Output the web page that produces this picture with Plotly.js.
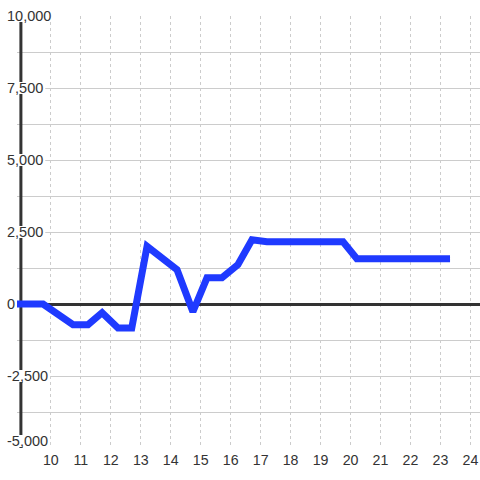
<!DOCTYPE html>
<html>
<head>
<meta charset="utf-8">
<script src="https://cdn.plot.ly/plotly-3.0.1.min.js"></script>
<style>html,body{margin:0;padding:0;background:#fff;}#chart{width:480px;height:480px;}</style>
</head>
<body>
<div id="chart"></div>
<script>
// Data
const xValues = [8.87, 9.74, 10.74, 11.24, 11.71, 12.24, 12.70, 13.21, 14.21, 14.74, 15.21, 15.71, 16.24, 16.71, 17.21, 17.71, 18.21, 18.71, 19.21, 19.75, 20.21, 20.71, 21.21, 21.71, 22.21, 22.71, 23.32];
const yValues = [0, 0, -720, -720, -300, -830, -830, 2000, 1190, -270, 910, 910, 1360, 2230, 2160, 2160, 2160, 2160, 2160, 2160, 1570, 1570, 1570, 1570, 1570, 1570, 1570];
const xTickVals = [10, 11, 12, 13, 14, 15, 16, 17, 18, 19, 20, 21, 22, 23, 24];
const xTickText = ['10', '11', '12', '13', '14', '15', '16', '17', '18', '19', '20', '21', '22', '23', '24'];
const yTickVals = [-2500, 0, 2500, 5000, 7500, 10000];
const yTickText = ['-2,500', '0', '2,500', '5,000', '7,500', '10,000'];
const yBottomVals = [-5000];
const yBottomText = ['-5,000'];
const yMinorVals = [-3750, -1250, 1250, 3750, 6250, 8750];

const FONT = 'Liberation Sans, Arial, sans-serif';
const YFS = 14.5;
const X0 = 8.87, X1 = 24.32;
const BOTTOM_LIFT = 7;
function textWidth(s) {
  let w = 0;
  for (const c of s) {
    if (c === ',') w += 0.278; else if (c === '-') w += 0.333; else w += 0.556;
  }
  return w * YFS;
}

const shapes = [{
  type: 'line', layer: 'between', xref: 'x', yref: 'y',
  x0: 9, x1: 9, y0: -5000, y1: 10000,
  line: {color: '#333', width: 3}
}];
const allVals = yBottomVals.concat(yTickVals);
const allText = yBottomText.concat(yTickText);
allVals.forEach((v, i) => {
  const w = textWidth(allText[i]);
  const lift = (v === yBottomVals[0]) ? BOTTOM_LIFT : 0;
  shapes.push({
    type: 'rect', layer: 'between', xref: 'x', yref: 'y',
    xsizemode: 'pixel', xanchor: X0, x0: -11, x1: -10 + w + 2,
    ysizemode: 'pixel', yanchor: v, y0: -6 + lift, y1: 6 + lift,
    fillcolor: '#ffffff', line: {width: 0}
  });
});

const trace = {
  x: xValues, y: yValues, type: 'scatter', mode: 'lines',
  line: {color: '#1f3aff', width: 7},
  hoverinfo: 'skip'
};
// invisible copy so the overlaid label axis is drawn
const ghost = {
  x: xValues, y: yValues, type: 'scatter', mode: 'lines', yaxis: 'y2',
  line: {color: 'rgba(0,0,0,0)', width: 0}, opacity: 0,
  hoverinfo: 'skip', showlegend: false
};

const yCommon = {
  range: [-5000, 10000],
  showline: false, ticks: '',
  ticklabelposition: 'inside', ticklabeloverflow: 'allow', ticklabelstandoff: -13,
  tickfont: {family: FONT, size: YFS, color: '#333'}
};

const layout = {
  width: 480, height: 480,
  margin: {l: 17, r: 0, t: 16, b: 32, pad: 0},
  paper_bgcolor: '#fff', plot_bgcolor: '#fff',
  showlegend: false,
  font: {family: FONT, color: '#333'},
  xaxis: {
    range: [X0, X1], tickmode: 'array', tickvals: xTickVals, ticktext: xTickText,
    showgrid: true, gridcolor: '#cccccc', gridwidth: 1, griddash: 'dot',
    zeroline: false, showline: false, ticks: '', ticklabelstandoff: 2,
    tickfont: {family: FONT, size: 14.2, color: '#333'}
  },
  yaxis: Object.assign({}, yCommon, {
    tickmode: 'array', tickvals: yTickVals, ticktext: yTickText,
    showgrid: true, gridcolor: '#cccccc', gridwidth: 1,
    minor: {tickmode: 'array', tickvals: yMinorVals.concat(yBottomVals), showgrid: true, gridcolor: '#cccccc', gridwidth: 1, ticks: ''},
    zeroline: true, zerolinecolor: '#333', zerolinewidth: 3
  }),
  yaxis2: Object.assign({}, yCommon, {
    overlaying: 'y', anchor: 'x', side: 'left',
    tickmode: 'array', tickvals: yBottomVals, ticktext: yBottomText,
    ticklabelshift: -BOTTOM_LIFT, showgrid: false, zeroline: false
  }),
  shapes: shapes
};

Plotly.newPlot('chart', [trace, ghost], layout, {displayModeBar: false, staticPlot: true});
</script>
</body>
</html>
